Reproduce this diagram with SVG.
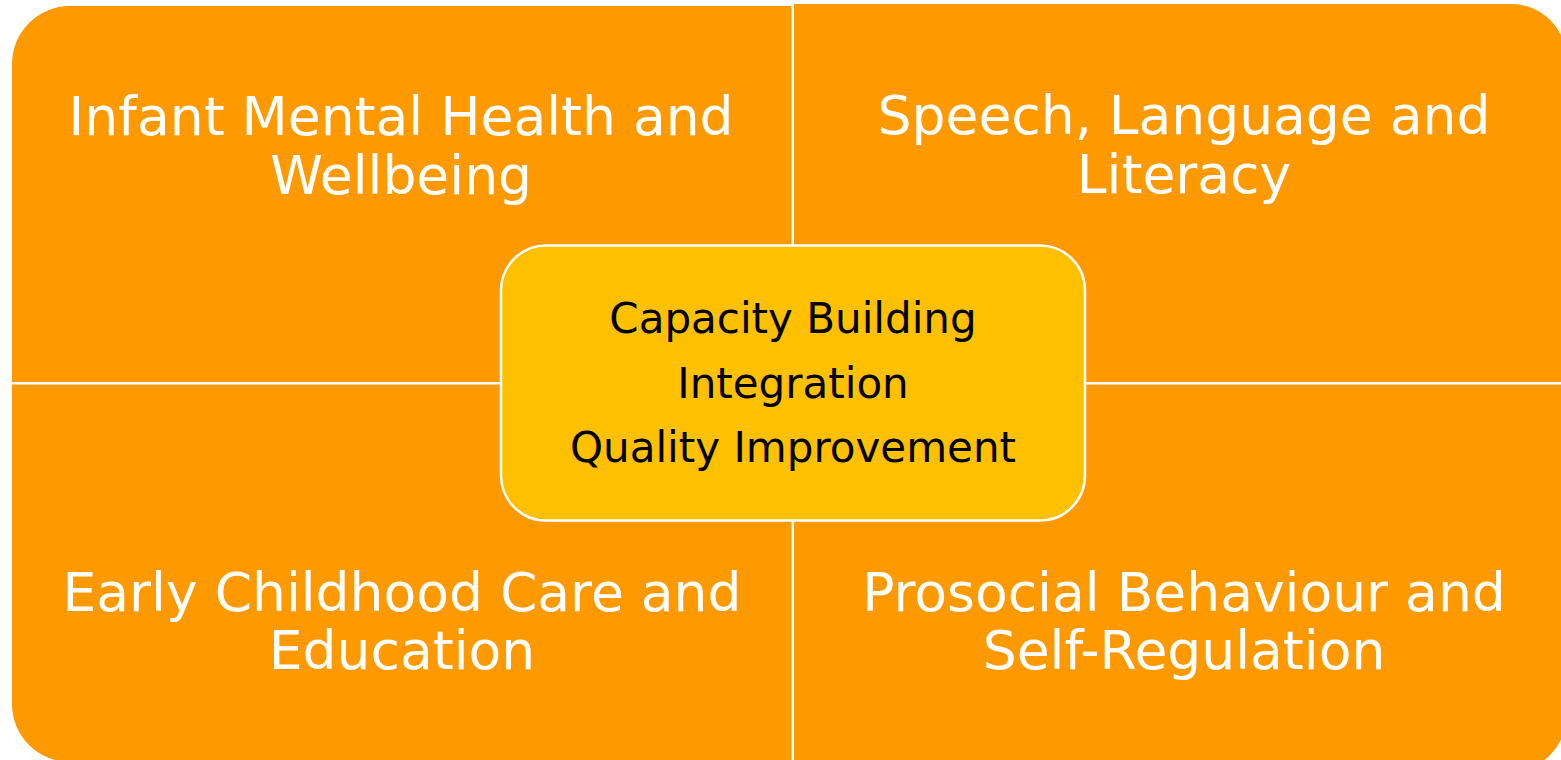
<svg xmlns="http://www.w3.org/2000/svg" width="1561" height="760" viewBox="0 0 1561 760">
<style>
.q{fill:#FF9900}
.qt{font-family:"DejaVu Sans",Verdana,sans-serif;font-size:53.5px;fill:#FFFFFF;text-anchor:middle}
.ct{font-family:"DejaVu Sans",Verdana,sans-serif;font-size:42px;fill:#000000;text-anchor:middle}
</style>
<rect width="1561" height="760" fill="#FFFFFF"/>
<g id="connectors"></g>
<g id="q-top-left">
<path class="q" d="M12,382 V64 A58,58 0 0 1 70,6 H791.5 V382 Z"/>
<text class="qt" x="401" y="135">Infant Mental Health and</text>
<text class="qt" x="401" y="194">Wellbeing</text>
</g>
<g id="q-top-right">
<path class="q" d="M794,382 V4 H1511 A56,56 0 0 1 1567,60 V382 Z"/>
<text class="qt" x="1184" y="134">Speech, Language and</text>
<text class="qt" x="1184" y="193">Literacy</text>
</g>
<g id="q-bottom-left">
<path class="q" d="M12,384.5 H791.5 V762 H70 A58,58 0 0 1 12,704 Z"/>
<text class="qt" x="402" y="611">Early Childhood Care and</text>
<text class="qt" x="402" y="669">Education</text>
</g>
<g id="q-bottom-right">
<path class="q" d="M794,384.5 H1567 V714 A58,58 0 0 1 1509,772 H794 Z"/>
<text class="qt" x="1184" y="611">Prosocial Behaviour and</text>
<text class="qt" x="1184" y="669">Self-Regulation</text>
</g>
<g id="center">
<rect x="501" y="245.5" width="584" height="275" rx="45" ry="45" fill="#FFC000" stroke="#FFFFFF" stroke-width="2.5"/>
<text class="ct" x="793" y="333">Capacity Building</text>
<text class="ct" x="793" y="398">Integration</text>
<text class="ct" x="793" y="462">Quality Improvement</text>
</g>
</svg>
